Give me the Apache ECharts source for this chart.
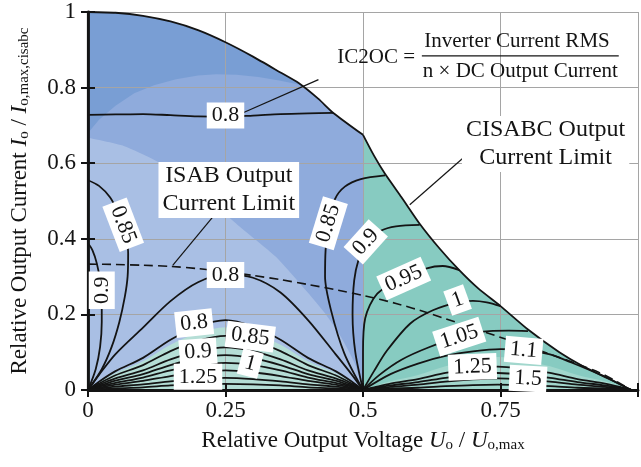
<!DOCTYPE html>
<html><head><meta charset="utf-8">
<script src="https://cdn.jsdelivr.net/npm/echarts@6/dist/echarts.min.js"></script>
<style>html,body{margin:0;padding:0;background:#fff}#c{width:641px;height:467px}</style>
</head><body><div id="c"></div>
<script>
// ---------- tick labels ----------
const xTickLabels = ['0', '0.25', '0.5', '0.75', ''];
const yTickLabels = ['0', '0.2', '0.4', '0.6', '0.8', '1'];

// ---------- region boundaries (x, y) ----------
const boundaryLeft = [[0,1],[0.05,0.998],[0.1,0.99],[0.15,0.975],[0.2,0.952],[0.25,0.92],[0.3,0.882],[0.35,0.84],[0.383,0.812],[0.419,0.77],[0.446,0.733],[0.5,0.675]];
const boundaryRight = [[0.5,0.675],[0.52,0.62],[0.54,0.572],[0.57,0.51],[0.603,0.44],[0.64,0.373],[0.675,0.317],[0.71,0.268],[0.75,0.222],[0.8,0.16],[0.857,0.1],[0.9,0.063],[0.95,0.028],[0.988,0]];
const midRegion = [[0,0.68],[0.02,0.715],[0.05,0.752],[0.084,0.785],[0.12,0.806],[0.16,0.822],[0.2,0.832],[0.233,0.835],[0.27,0.834],[0.31,0.828],[0.35,0.818],[0.383,0.808],[0.4,0.792],[0.419,0.77],[0.446,0.733],[0.5,0.675],[0.5,0]];
const lightRegion = [[0,0.667],[0.066,0.645],[0.132,0.6],[0.2,0.527],[0.276,0.432],[0.341,0.353],[0.406,0.247],[0.431,0.203],[0.46,0.14],[0.485,0.07],[0.5,0]];

// ---------- left-half arches (x grid + y values) ----------
const xsL = [0,0.02,0.05,0.1,0.15,0.2,0.25,0.3,0.35,0.4,0.45,0.48,0.5];
const tealHumpL = [0,0.02,0.045,0.076,0.12,0.151,0.166,0.151,0.12,0.076,0.045,0.02,0];
const archBig080 = [0,0.04,0.095,0.165,0.235,0.285,0.305,0.297,0.258,0.185,0.095,0.04,0];
const archL080 = [0,0.022,0.05,0.085,0.133,0.168,0.185,0.168,0.133,0.085,0.05,0.022,0];
const archL085 = [0,0.017,0.039,0.066,0.103,0.13,0.143,0.13,0.103,0.066,0.039,0.017,0];
const archL090 = [0,0.014,0.031,0.052,0.081,0.103,0.113,0.103,0.081,0.052,0.031,0.014,0];
const archL095 = [0,0.011,0.025,0.042,0.066,0.084,0.092,0.084,0.066,0.042,0.025,0.011,0];
const archL100 = [0,0.009,0.019,0.033,0.052,0.066,0.072,0.066,0.052,0.033,0.019,0.009,0];
const archL110 = [0,0.006,0.014,0.024,0.037,0.047,0.052,0.047,0.037,0.024,0.014,0.006,0];
const archL125 = [0,0.004,0.009,0.015,0.023,0.029,0.032,0.029,0.023,0.015,0.009,0.004,0];
const archL150 = [0,0.002,0.004,0.007,0.012,0.015,0.016,0.015,0.012,0.007,0.004,0.002,0];

// ---------- right-half arches ----------
const xsR = [0.5,0.52,0.55,0.6,0.65,0.7,0.745,0.79,0.84,0.89,0.94,0.97,0.988];
const tealHumpR = [0,0.01,0.023,0.04,0.063,0.079,0.087,0.079,0.063,0.04,0.023,0.01,0];
const archR125 = [0,0.007,0.017,0.029,0.045,0.056,0.062,0.056,0.045,0.029,0.017,0.007,0];
const archR135 = [0,0.005,0.012,0.021,0.032,0.041,0.045,0.041,0.032,0.021,0.012,0.005,0];
const archR150 = [0,0.004,0.008,0.014,0.022,0.028,0.031,0.028,0.022,0.014,0.008,0.004,0];
const archR200 = [0,0.002,0.004,0.006,0.01,0.013,0.014,0.013,0.01,0.006,0.004,0.002,0];

// ---------- other contour lines (x, y) ----------
const c080top = [[0,0.728],[0.05,0.729],[0.1,0.73],[0.15,0.727],[0.2,0.724],[0.25,0.723],[0.3,0.726],[0.35,0.73],[0.4,0.732],[0.446,0.733]];
const c085L = [[0,0.555],[0.02,0.54],[0.04,0.51],[0.055,0.47],[0.064,0.437],[0.07,0.4],[0.073,0.362],[0.072,0.3],[0.067,0.247],[0.057,0.18],[0.043,0.114],[0.025,0.055],[0,0]];
const c090L = [[0,0.388],[0.008,0.37],[0.016,0.335],[0.022,0.29],[0.025,0.247],[0.025,0.18],[0.022,0.114],[0.014,0.055],[0,0]];
const c085R = [[0.5,0],[0.466,0.097],[0.442,0.21],[0.431,0.3],[0.432,0.37],[0.437,0.44],[0.449,0.505],[0.467,0.538],[0.496,0.558],[0.54,0.568]];
const c090R = [[0.5,0],[0.486,0.1],[0.481,0.2],[0.484,0.29],[0.492,0.345],[0.505,0.39],[0.532,0.421],[0.56,0.433],[0.603,0.437]];
const c095R = [[0.5,0],[0.5,0.1],[0.504,0.19],[0.526,0.255],[0.574,0.297],[0.616,0.322],[0.645,0.328],[0.675,0.317]];
const c100R = [[0.5,0],[0.52,0.05],[0.544,0.105],[0.586,0.176],[0.627,0.211],[0.672,0.232],[0.7,0.236],[0.725,0.232],[0.75,0.222]];
const c105R = [[0.5,0],[0.53,0.04],[0.57,0.08],[0.62,0.113],[0.68,0.143],[0.73,0.156],[0.765,0.157],[0.8,0.156]];
const c110R = [[0.5,0],[0.55,0.042],[0.6,0.07],[0.65,0.09],[0.7,0.102],[0.75,0.108],[0.8,0.105],[0.84,0.094],[0.88,0.072],[0.93,0.041],[0.988,0]];
const isabLimit = [[0,0.333],[0.05,0.332],[0.1,0.33],[0.15,0.327],[0.2,0.321],[0.25,0.313],[0.3,0.303],[0.35,0.292],[0.4,0.279],[0.455,0.264],[0.5,0.25],[0.56,0.229],[0.62,0.203],[0.72,0.154],[0.82,0.105],[0.93,0.046],[0.988,0]];

// ---------- contour labels ----------
const labelTexts = ['0.8','0.85','0.9','0.8','0.8','0.85','0.9','1','1.25','0.85','0.9','0.95','1','1.05','1.1','1.25','1.5'];
const labelPoints = [[0.25,0.726],[0.064,0.437],[0.025,0.264],[0.25,0.304],[0.193,0.177],[0.295,0.141],[0.2,0.101],[0.295,0.07],[0.2,0.035],[0.437,0.441],[0.505,0.392],[0.574,0.295],[0.672,0.238],[0.675,0.141],[0.792,0.105],[0.699,0.061],[0.8,0.03]];
const labelAngles = [0,-69,90,0,6,-7,4,-15,0,73,48,24,20,18,-5,2,-3];

// ---------- annotations ----------
const annoTexts = ['IC2OC =','Inverter Current RMS','n × DC Output Current'];
const annoPoints = [[0.524,0.879],[0.78,0.921],[0.786,0.842]];
const boxTexts = ['CISABC Output\nCurrent Limit','ISAB Output\nCurrent Limit'];
const boxPoints = [[0.832,0.651],[0.256,0.529]];
const pointerIC2OC = [[0.419,0.821],[0.281,0.733]];
const pointerCISABC = [[0.709,0.648],[0.585,0.49]];
const pointerISAB = [[0.227,0.458],[0.154,0.33]];
const fractionBar = [[0.607,0.884],[0.965,0.884]];

const FONT = 'Liberation Serif';
const INK = '#141414';
const zip = (xs, ys) => xs.map((x, i) => [x, ys[i]]);

function lineS(data, extra) {
  return Object.assign({type:'line', data, symbol:'none', silent:true, animation:false,
    smooth:0.3, lineStyle:{color:INK, width:1.8}, z:4}, extra || {});
}
function areaS(data, color, smooth) {
  return lineS(data, {smooth: smooth, lineStyle:{width:0, opacity:0}, areaStyle:{color, opacity:1}, z:1});
}
function textS(points, texts, rots, labelStyle, z) {
  return {
    type:'scatter', symbolSize:0, silent:true, animation:false, z:z,
    itemStyle:{opacity:1},
    emphasis:{disabled:true},
    data: points.map((p, i) => ({value:p, label:{formatter:texts[i], rotate:rots ? rots[i] : 0}})),
    label:Object.assign({show:true, position:'inside', color:INK, fontFamily:FONT, opacity:1}, labelStyle)
  };
}

const series = [
  areaS(boundaryLeft.concat([[0.5,0]]), '#799ed4', 0),
  areaS(boundaryRight, '#87cbc1', 0.2),
  areaS(midRegion, '#8fabdc', 0),
  areaS(lightRegion, '#a9bfe4', 0.2),
  areaS(zip(xsL, tealHumpL), '#b5ded6', 0.3),
  areaS(zip(xsR, tealHumpR), '#a2d7cd', 0.3),
  lineS(boundaryLeft, {smooth:0.2}),
  lineS(boundaryRight, {smooth:0.2}),
  lineS(c080top), lineS(c085L), lineS(c090L),
  lineS(zip(xsL, archBig080)), lineS(zip(xsL, archL080)), lineS(zip(xsL, archL085)),
  lineS(zip(xsL, archL090)), lineS(zip(xsL, archL095)), lineS(zip(xsL, archL100)),
  lineS(zip(xsL, archL110)), lineS(zip(xsL, archL125)), lineS(zip(xsL, archL150)),
  lineS(c085R), lineS(c090R), lineS(c095R), lineS(c100R), lineS(c105R), lineS(c110R),
  lineS(zip(xsR, archR125)), lineS(zip(xsR, archR135)), lineS(zip(xsR, archR150)), lineS(zip(xsR, archR200)),
  lineS(isabLimit, {lineStyle:{color:INK, width:1.6, type:[9,5]}}),
  lineS(pointerIC2OC, {smooth:false, lineStyle:{color:INK, width:1.2}, z:5}),
  lineS(pointerCISABC, {smooth:false, lineStyle:{color:INK, width:1.2}, z:5}),
  lineS(pointerISAB, {smooth:false, lineStyle:{color:INK, width:1.2}, z:5}),
  lineS(fractionBar, {smooth:false, lineStyle:{color:INK, width:1.2}, z:5}),
  textS(labelPoints, labelTexts, labelAngles, {fontSize:22, lineHeight:22, backgroundColor:'#ffffff', padding:[2,5]}, 6),
  textS(annoPoints, annoTexts, null, {fontSize:21}, 7),
  textS(boxPoints, boxTexts, null, {fontSize:24, lineHeight:28, backgroundColor:'#ffffff', padding:[0,4]}, 7)
];

const nameStyle = {
  fontFamily:FONT, fontSize:23, color:INK,
  rich:{
    i:{fontFamily:FONT, fontSize:23, fontStyle:'italic', color:INK},
    s:{fontFamily:FONT, fontSize:15, color:INK, padding:[10,0,0,0]}
  }
};

const option = {
  backgroundColor:'#fff',
  animation:false,
  grid:{left:86, top:12, width:559, height:378},
  xAxis:[{
    type:'value', min:0, max:1, interval:0.25, position:'bottom', z:3,
    axisLine:{lineStyle:{color:INK, width:2.8}},
    axisTick:{inside:true, length:7, lineStyle:{color:INK, width:2}},
    axisLabel:{margin:9, color:INK, fontFamily:FONT, fontSize:23,
      formatter:(v) => xTickLabels[Math.round(v / 0.25)]},
    splitLine:{show:true, lineStyle:{color:'#a5a5a5', width:1}},
    name:'Relative Output Voltage {i|U}{s|o} / {i|U}{s|o,max}',
    nameLocation:'middle', nameGap:38, nameTextStyle:nameStyle
  },{
    type:'value', min:0, max:1, interval:0.25, position:'top', z:3,
    axisLine:{lineStyle:{color:INK, width:2.2}},
    axisTick:{inside:true, length:7, lineStyle:{color:INK, width:2}},
    axisLabel:{show:false}, splitLine:{show:false}
  }],
  yAxis:[{
    type:'value', min:0, max:1, interval:0.2, position:'left', z:3,
    axisLine:{show:true, lineStyle:{color:INK, width:2.8}},
    axisTick:{show:true, inside:true, length:7, lineStyle:{color:INK, width:2}},
    axisLabel:{margin:12, color:INK, fontFamily:FONT, fontSize:23,
      formatter:(v) => yTickLabels[Math.round(v / 0.2)]},
    splitLine:{show:true, lineStyle:{color:'#a5a5a5', width:1}},
    name:'Relative Output Current {i|I}{s|o} / {i|I}{s|o,max,cisabc}',
    nameLocation:'middle', nameGap:56, nameRotate:90, nameTextStyle:nameStyle
  },{
    type:'value', min:0, max:1, interval:0.2, position:'right', z:3,
    axisLine:{show:true, lineStyle:{color:INK, width:2.2}},
    axisTick:{show:true, inside:true, length:7, lineStyle:{color:INK, width:2}},
    axisLabel:{show:false}, splitLine:{show:false}
  }],
  series
};

const chart = echarts.init(document.getElementById('c'), null, {renderer:'canvas'});
chart.setOption(option);
</script></body></html>
